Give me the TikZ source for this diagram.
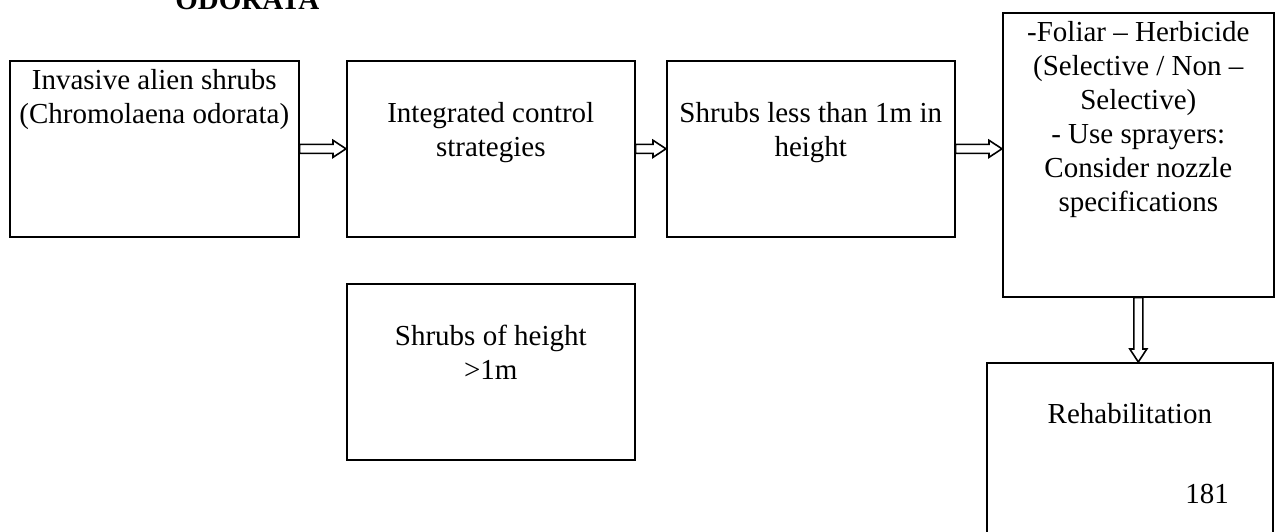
\documentclass[tikz,border=0pt]{standalone}
\usepackage{fontspec}
\setmainfont{Liberation Serif}
\usetikzlibrary{calc}

\begin{document}
\begin{tikzpicture}[x=0.5pt, y=-0.5pt,
  font=\fontsize{14.5pt}{17pt}\selectfont,
  box/.style={draw, line width=0.8pt, align=center, anchor=north west, inner sep=0pt},
  hollow/.style={line width=0.8pt, line join=miter, to path={
    ($(\tikztostart)!2.25pt!90:(\tikztotarget)$)
    -- ($(\tikztotarget)!6.5pt!(\tikztostart)!2.25pt!90:(\tikztotarget)$)
    -- ($(\tikztotarget)!6.5pt!(\tikztostart)!4.25pt!90:(\tikztotarget)$)
    -- (\tikztotarget)
    -- ($(\tikztotarget)!6.5pt!(\tikztostart)!4.25pt!-90:(\tikztotarget)$)
    -- ($(\tikztotarget)!6.5pt!(\tikztostart)!2.25pt!-90:(\tikztotarget)$)
    -- ($(\tikztostart)!2.25pt!-90:(\tikztotarget)$) -- cycle}}]
\useasboundingbox (0,0) rectangle (1276,531);
% Title cut at the top
\node[anchor=base west, inner sep=0pt] (title) at (175,9) {\bfseries ODORATA};
% Draw the top row of boxes
\node[box, minimum width=144.5pt, text height=31.5pt, text depth=56.5pt] (inv) at (9,60)
  {Invasive alien shrubs\\(Chromolaena odorata)};
\node[box, minimum width=144pt, text height=48pt, text depth=40pt] (ics) at (346,60)
  {Integrated control\\strategies};
\node[box, minimum width=144pt, text height=48pt, text depth=40pt] (less) at (666,60)
  {Shrubs less than 1m in\\height};
\node[box, minimum width=135.5pt, text height=99.5pt, text depth=42.5pt] (foliar) at (1002,12)
  {-Foliar – Herbicide\\(Selective / Non –\\Selective)\\- Use sprayers:\\Consider nozzle\\specifications};
% Draw the lower boxes
\node[box, minimum width=144pt, text height=48pt, text depth=40pt] (tall) at (346,283)
  {Shrubs of height\\>1m};
\node[box, minimum width=143pt, text height=30.5pt, text depth=57.5pt] (rehab) at (986,362)
  {Rehabilitation};
\node[anchor=base west, inner sep=0pt] (pagenum) at (1185,503) {181};
% Draw the hollow arrows
\draw[hollow] (inv.east) to (ics.west);
\draw[hollow] (ics.east) to (less.west);
\draw[hollow] (less.east) to (less.east -| foliar.west);
\draw[hollow] (foliar.south) to (foliar.south |- rehab.north);
\end{tikzpicture}
\end{document}
